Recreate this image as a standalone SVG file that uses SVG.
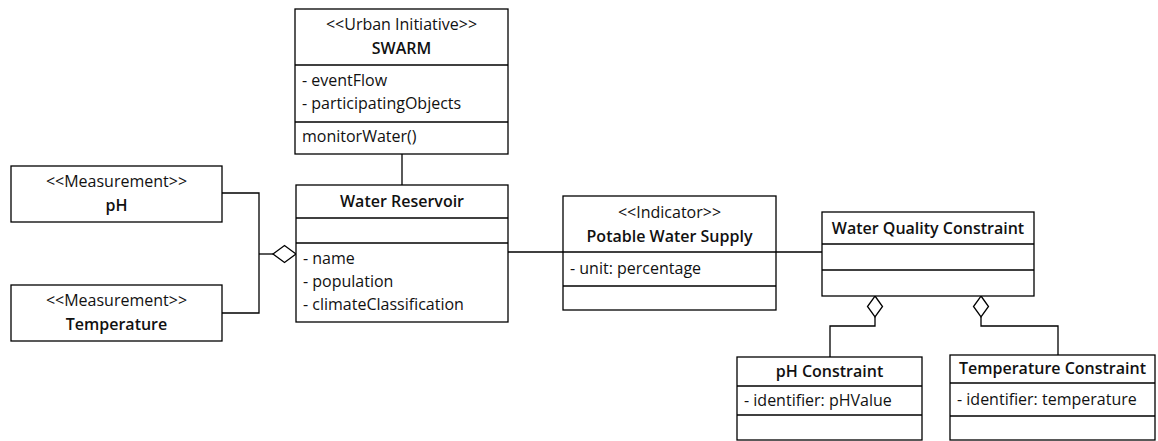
<svg xmlns="http://www.w3.org/2000/svg" width="1158" height="441" viewBox="0 0 1158 441">
  <style>
    .box { fill: #ffffff; stroke: #000000; stroke-width: 1.3; }
    .sep { stroke: #000000; stroke-width: 1.3; }
    .edge { fill: none; stroke: #000000; stroke-width: 1.3; }
    .agg { fill: #ffffff; stroke: #000000; stroke-width: 1.3; }
    text { font-family: "Open Sans", "Lato", sans-serif; font-size: 16px; fill: #111111; }
    .st { text-anchor: middle; }
    .name { text-anchor: middle; font-weight: 600; }
  </style>
  <rect width="1158" height="441" fill="#ffffff"/>

  <!-- connectors -->
  <g id="connectors">
    <path class="edge" d="M402,154 V185"/>
    <path class="edge" d="M222,193 H259 V313 H222"/>
    <path class="edge" d="M259,254 H273"/>
    <polygon class="agg" points="273,254 284.5,245.5 296,254 284.5,262.5"/>
    <path class="edge" d="M508,252 H563"/>
    <path class="edge" d="M776,252 H822"/>
    <polygon class="agg" points="875,296 882.5,306.5 875,317 867.5,306.5"/>
    <path class="edge" d="M875,317 V326 H830 V357"/>
    <polygon class="agg" points="981,296 988.5,306.5 981,317 973.5,306.5"/>
    <path class="edge" d="M981,317 V326 H1058 V355"/>
  </g>

  <!-- SWARM -->
  <g id="swarm">
    <rect class="box" x="295" y="9" width="213" height="145"/>
    <line class="sep" x1="295" y1="65" x2="508" y2="65"/>
    <line class="sep" x1="295" y1="122" x2="508" y2="122"/>
    <text class="st" x="401.5" y="30">&lt;&lt;Urban Initiative&gt;&gt;</text>
    <text class="name" x="401.5" y="54">SWARM</text>
    <text x="302" y="86">- eventFlow</text>
    <text x="302" y="109">- participatingObjects</text>
    <text x="302" y="142">monitorWater()</text>
  </g>

  <!-- pH measurement -->
  <g id="ph">
    <rect class="box" x="11" y="166" width="211" height="56"/>
    <text class="st" x="116.5" y="187">&lt;&lt;Measurement&gt;&gt;</text>
    <text class="name" x="116.5" y="211">pH</text>
  </g>

  <!-- Temperature measurement -->
  <g id="temperature">
    <rect class="box" x="11" y="285" width="211" height="56"/>
    <text class="st" x="116.5" y="306">&lt;&lt;Measurement&gt;&gt;</text>
    <text class="name" x="116.5" y="330">Temperature</text>
  </g>

  <!-- Water Reservoir -->
  <g id="water-reservoir">
    <rect class="box" x="296" y="185" width="212" height="137"/>
    <line class="sep" x1="296" y1="218" x2="508" y2="218"/>
    <line class="sep" x1="296" y1="243" x2="508" y2="243"/>
    <text class="name" x="402" y="207">Water Reservoir</text>
    <text x="303" y="264">- name</text>
    <text x="303" y="287">- population</text>
    <text x="303" y="310">- climateClassification</text>
  </g>

  <!-- Potable Water Supply -->
  <g id="potable-water-supply">
    <rect class="box" x="563" y="196" width="213" height="114"/>
    <line class="sep" x1="563" y1="252" x2="776" y2="252"/>
    <line class="sep" x1="563" y1="286" x2="776" y2="286"/>
    <text class="st" x="669.5" y="218">&lt;&lt;Indicator&gt;&gt;</text>
    <text class="name" x="669.5" y="242">Potable Water Supply</text>
    <text x="570" y="274">- unit: percentage</text>
  </g>

  <!-- Water Quality Constraint -->
  <g id="water-quality-constraint">
    <rect class="box" x="822" y="212" width="212" height="84"/>
    <line class="sep" x1="822" y1="244" x2="1034" y2="244"/>
    <line class="sep" x1="822" y1="270" x2="1034" y2="270"/>
    <text class="name" x="928" y="234">Water Quality Constraint</text>
  </g>

  <!-- pH Constraint -->
  <g id="ph-constraint">
    <rect class="box" x="737" y="357" width="185" height="83"/>
    <line class="sep" x1="737" y1="386" x2="922" y2="386"/>
    <line class="sep" x1="737" y1="415" x2="922" y2="415"/>
    <text class="name" x="829.5" y="377">pH Constraint</text>
    <text x="744" y="406">- identifier: pHValue</text>
  </g>

  <!-- Temperature Constraint -->
  <g id="temperature-constraint">
    <rect class="box" x="950" y="355" width="205" height="85"/>
    <line class="sep" x1="950" y1="383" x2="1155" y2="383"/>
    <line class="sep" x1="950" y1="416" x2="1155" y2="416"/>
    <text class="name" x="1052.5" y="374">Temperature Constraint</text>
    <text x="957" y="405">- identifier: temperature</text>
  </g>
</svg>
